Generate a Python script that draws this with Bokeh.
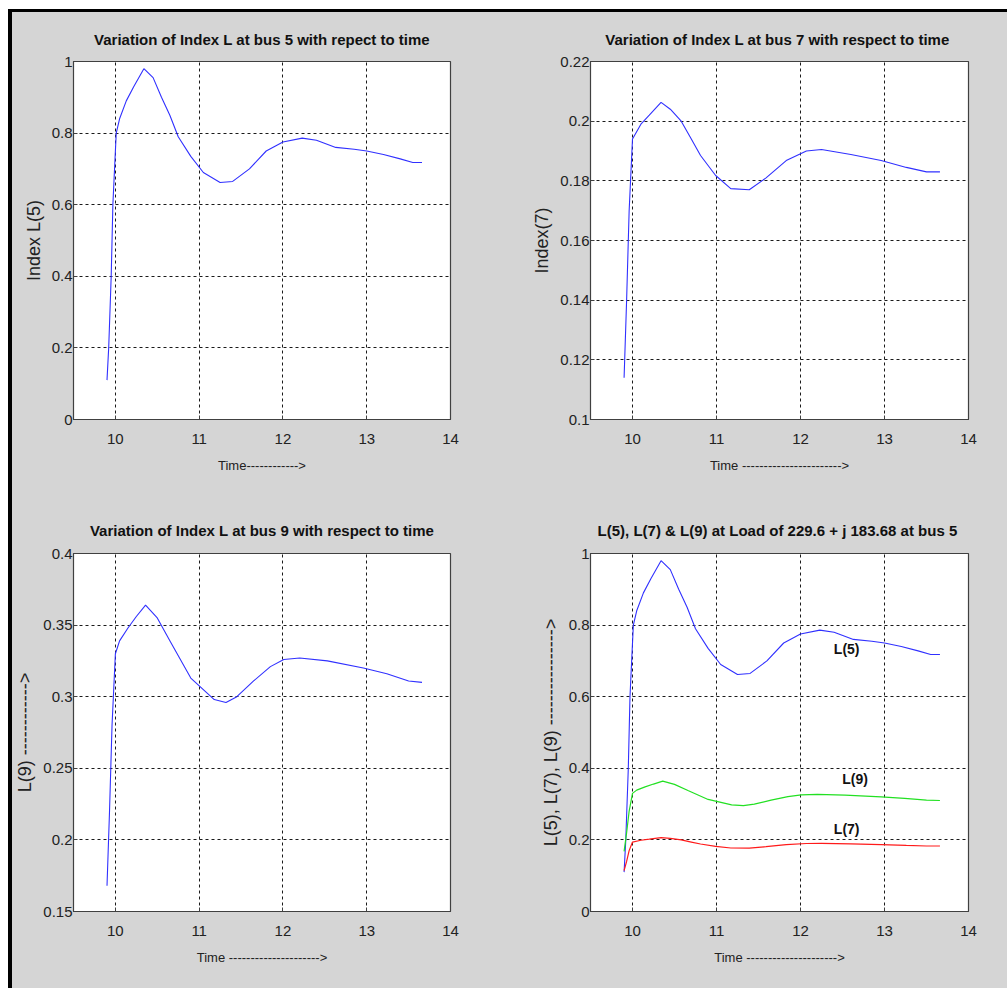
from bokeh.plotting import figure
from bokeh.layouts import column, row
from bokeh.models import FixedTicker, Label, Spacer
from bokeh.embed import file_html
from bokeh.resources import INLINE

# ---------------- data ----------------
t5 = [9.90, 9.92, 9.95, 9.97, 10.01, 10.05, 10.13, 10.22, 10.34, 10.45, 10.55, 10.65,
      10.75, 10.90, 11.05, 11.25, 11.40, 11.60, 11.80, 12.00, 12.23, 12.40, 12.63,
      12.85, 13.00, 13.20, 13.40, 13.55, 13.66]
L5 = [0.11, 0.20, 0.40, 0.60, 0.80, 0.84, 0.89, 0.93, 0.98, 0.955, 0.90, 0.85,
      0.79, 0.735, 0.69, 0.662, 0.665, 0.70, 0.75, 0.775, 0.786, 0.78, 0.76,
      0.755, 0.75, 0.74, 0.728, 0.718, 0.718]

t7 = [9.90, 9.93, 9.96, 10.00, 10.10, 10.20, 10.34, 10.45, 10.58, 10.70, 10.81, 10.99,
      11.17, 11.39, 11.59, 11.83, 12.07, 12.25, 12.60, 12.96, 13.26, 13.50, 13.66]
L7 = [0.114, 0.14, 0.17, 0.194, 0.199, 0.202, 0.2063, 0.204, 0.200, 0.194, 0.1885, 0.1818,
      0.1774, 0.177, 0.181, 0.1868, 0.190, 0.1905, 0.1888, 0.1868, 0.1845, 0.183, 0.183]

t9 = [9.90, 9.93, 9.96, 10.00, 10.05, 10.15, 10.25, 10.36, 10.50, 10.66, 10.90, 11.18,
      11.32, 11.45, 11.65, 11.85, 12.01, 12.20, 12.53, 12.96, 13.24, 13.50, 13.66]
L9 = [0.168, 0.22, 0.28, 0.33, 0.339, 0.348, 0.356, 0.364, 0.355, 0.338, 0.313, 0.298,
      0.296, 0.300, 0.311, 0.321, 0.326, 0.327, 0.325, 0.32, 0.316, 0.311, 0.31]

x_ticks = [10, 11, 12, 13, 14]
x_tick_labels = ["10", "11", "12", "13", "14"]

y1_ticks = [0, 0.2, 0.4, 0.6, 0.8, 1]
y1_labels = ["0", "0.2", "0.4", "0.6", "0.8", "1"]
y2_ticks = [0.1, 0.12, 0.14, 0.16, 0.18, 0.2, 0.22]
y2_labels = ["0.1", "0.12", "0.14", "0.16", "0.18", "0.2", "0.22"]
y3_ticks = [0.15, 0.2, 0.25, 0.3, 0.35, 0.4]
y3_labels = ["0.15", "0.2", "0.25", "0.3", "0.35", "0.4"]

titles = ["Variation of Index L at bus 5 with repect to time",
          "Variation of  Index L at bus 7 with respect to time",
          "Variation of Index L at bus 9 with respect to time",
          "L(5), L(7) & L(9) at  Load of 229.6 + j 183.68 at bus 5"]
x_labels = ["Time------------>",
            "Time ----------------------->",
            "Time --------------------->",
            "Time --------------------->"]
y_labels = ["Index L(5)",
            "Index(7)",
            "L(9) ------------>",
            "L(5), L(7), L(9) ---------------->"]

curve_names = ["L(5)", "L(9)", "L(7)"]
curve_label_x = [12.55, 12.65, 12.55]
curve_label_y = [0.733, 0.37, 0.23]

# ---------------- style ----------------
FONT = "Liberation Sans"
BG = "#d5d5d5"
FRAME = "#404040"
BLUE = "#3030ff"


def make_fig(w, h, bl, br, bt, bb, yr, yt, ylab, title, xlabel, ylabel, standoff):
    p = figure(width=w, height=h, x_range=(9.5, 14), y_range=yr,
               output_backend="svg", toolbar_location=None,
               min_border_left=bl, min_border_right=br,
               min_border_top=bt, min_border_bottom=bb)
    p.background_fill_color = "white"
    p.border_fill_color = BG
    p.outline_line_color = FRAME
    p.outline_line_width = 1.2

    p.title.text = title
    p.title.align = "center"
    p.title.text_font = FONT
    p.title.text_font_size = "15px"
    p.title.text_font_style = "bold"
    p.title.text_color = "#111111"
    p.title.standoff = standoff

    p.xaxis.ticker = FixedTicker(ticks=x_ticks)
    p.xaxis.major_label_overrides = dict(zip(x_ticks, x_tick_labels))
    p.yaxis.ticker = FixedTicker(ticks=yt)
    p.yaxis.major_label_overrides = dict(zip(yt, ylab))

    for ax in (p.xaxis[0], p.yaxis[0]):
        ax.axis_line_color = FRAME
        ax.major_tick_line_color = FRAME
        ax.major_tick_in = 4
        ax.major_tick_out = 0
        ax.minor_tick_line_color = None
        ax.major_label_text_font = FONT
        ax.major_label_text_font_size = "15px"
        ax.major_label_text_color = "#222222"
        ax.axis_label_text_font = FONT
        ax.axis_label_text_font_style = "normal"
        ax.axis_label_text_color = "#222222"
    p.xaxis.axis_label_text_font_size = "13px"
    p.yaxis.axis_label_text_font_size = "18px"
    p.xaxis.major_label_standoff = 14
    p.yaxis.major_label_standoff = 1
    p.xaxis.axis_label = xlabel
    p.yaxis.axis_label = ylabel
    p.xaxis.axis_label_standoff = 11
    p.yaxis.axis_label_standoff = 5

    for g in (p.xgrid[0], p.ygrid[0]):
        g.grid_line_color = "#1a1a1a"
        g.grid_line_dash = "3 3"
        g.grid_line_width = 1
    p.xgrid.ticker = FixedTicker(ticks=x_ticks)
    p.ygrid.ticker = FixedTicker(ticks=yt)
    return p


p1 = make_fig(508, 474, 61, 70, 49, 67, (0, 1), y1_ticks, y1_labels,
              titles[0], x_labels[0], y_labels[0], 27)
p1.line(t5, L5, line_color=BLUE, line_width=1.1)

p2 = make_fig(487, 474, 70, 39, 49, 67, (0.1, 0.22), y2_ticks, y2_labels,
              titles[1], x_labels[1], y_labels[1], 27)
p2.line(t7, L7, line_color=BLUE, line_width=1.1)

p3 = make_fig(508, 502, 61, 70, 67, 77, (0.15, 0.4), y3_ticks, y3_labels,
              titles[2], x_labels[2], y_labels[2], 29)
p3.line(t9, L9, line_color=BLUE, line_width=1.1)

p4 = make_fig(487, 502, 70, 39, 67, 77, (0, 1), y1_ticks, y1_labels,
              titles[3], x_labels[3], y_labels[3], 29)
p4.line(t5, L5, line_color=BLUE, line_width=1.1)
p4.line(t9, L9, line_color="#22e022", line_width=1.2)
p4.line(t7, L7, line_color="#ff1a1a", line_width=1.2)
for name, lx, ly in zip(curve_names, curve_label_x, curve_label_y):
    p4.add_layout(Label(x=lx, y=ly, text=name, text_font=FONT,
                        text_font_size="14px", text_font_style="bold",
                        text_color="#111111", text_align="center",
                        text_baseline="middle"))

inner = column(Spacer(width=995, height=3, styles={"background-color": "black"}),
               row(p1, p2, styles={"background-color": BG}),
               row(p3, p4, styles={"background-color": BG}),
               styles={"background-color": BG})
layout = column(Spacer(width=1007, height=9),
                row(Spacer(width=8, height=979),
                    Spacer(width=4, height=979, styles={"background-color": "black"}),
                    inner))

open("out.html", "w").write(file_html(layout, INLINE))
